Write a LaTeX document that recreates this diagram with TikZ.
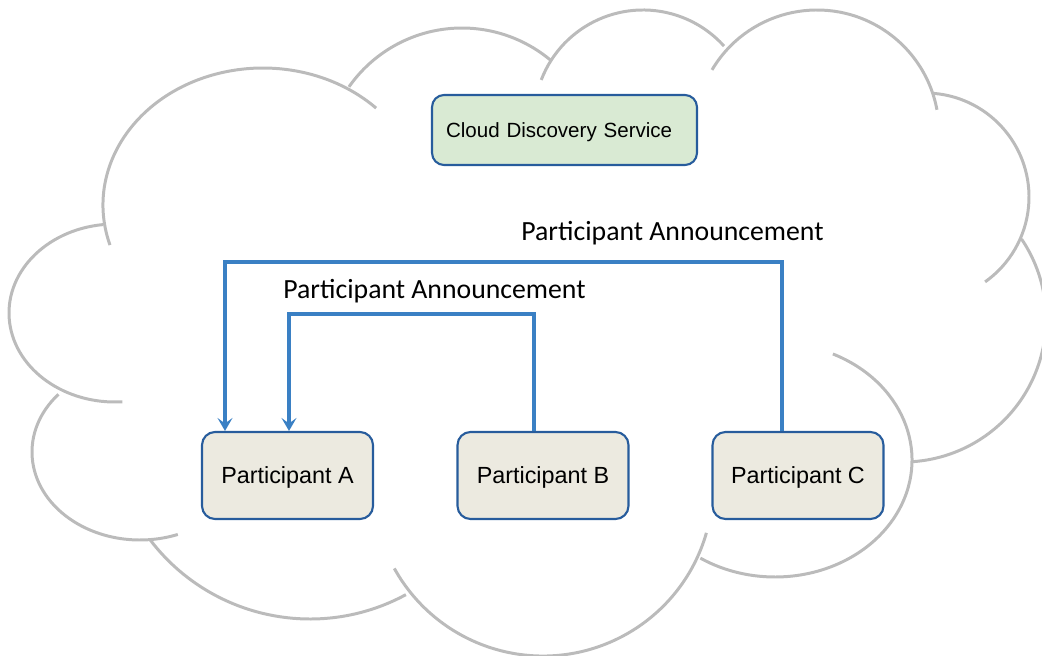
\documentclass[tikz,border=0pt]{standalone}
\usepackage{fontspec}
\setmainfont{Liberation Sans}
\newfontfamily\annfont{Carlito}
\usepackage{tikz}
\usetikzlibrary{calc,arrows.meta}
\definecolor{cloudgray}{HTML}{BBBBBB}
\definecolor{msgblue}{HTML}{3A80C4}
\definecolor{boxedge}{HTML}{275C9C}
\definecolor{svcfill}{HTML}{D9EAD3}
\definecolor{partfill}{HTML}{ECEAE0}
\tikzstyle{cld}=[draw=cloudgray, line width=1.7pt]
\tikzstyle{part}=[shape=rectangle, draw=boxedge, fill=partfill, line width=1.2pt, rounded corners=0.26cm, minimum width=3.42cm, minimum height=1.74cm, text depth=0pt, font=\fontsize{13.3}{16}\selectfont]
\tikzstyle{svc}=[shape=rectangle, draw=boxedge, fill=svcfill, line width=1.2pt, rounded corners=0.24cm, minimum height=1.4cm, text width=4.74cm, inner xsep=0.28cm, align=left, text depth=0pt, font=\fontsize{11.7}{14}\selectfont]
\tikzstyle{msg}=[draw=msgblue, line width=2pt, -{Stealth[length=0.26cm,width=0.3cm,inset=0.11cm]}]
\tikzstyle{ann}=[anchor=base, inner sep=0pt, font=\annfont\fontsize{15.8}{19}\selectfont]

\begin{document}
\begin{tikzpicture}[x=0.02cm,y=-0.02cm]
\clip (0,0) rectangle (1042,656);

%cloud
\draw[cld, shift={(263,205)}] (163:160 and 137) arc[start angle=163, end angle=315, x radius=160, y radius=137];
\draw[cld, shift={(462,166)}] (215:138 and 138) arc[start angle=215, end angle=310, x radius=138, y radius=138];
\draw[cld, shift={(643,119)}] (201:109 and 109) arc[start angle=201, end angle=318, x radius=109, y radius=109];
\draw[cld, shift={(817,132)}] (210.6:122 and 122) arc[start angle=210.6, end angle=349.5, x radius=122, y radius=122];
\draw[cld, shift={(925,197)}] (275:104 and 104) arc[start angle=275, end angle=414.7, x radius=104, y radius=104];
\draw[cld, shift={(903,319)}] (326:143 and 143) arc[start angle=326, end angle=446, x radius=143, y radius=143];
\draw[cld, shift={(775,460)}] (295:137 and 117) arc[start angle=295, end angle=483, x radius=137, y radius=117];
\draw[cld, shift={(543,486)}] (16:170 and 170) arc[start angle=16, end angle=151, x radius=170, y radius=170];
\draw[cld, shift={(310,418)}] (61.5:201 and 201) arc[start angle=61.5, end angle=143, x radius=201, y radius=201];
\draw[cld, shift={(140,452)}] (221:108 and 88) arc[start angle=221, end angle=69.5, x radius=108, y radius=88];
\draw[cld, shift={(115,313)}] (263.5:106 and 89) arc[start angle=263.5, end angle=86, x radius=106, y radius=89];

\node (cds) [svc] at (564.5,130) {Cloud Discovery Service};
\node (pA) [part] at (287.5,475.5) {Participant A};
\node (pB) [part] at (543,475.5) {Participant B};
\node (pC) [part] at (798,475.5) {Participant C};

\node (annC) [ann] at (672.5,240) {Participant Announcement};
\node (annB) [ann] at (434.5,298) {Participant Announcement};

\draw[msg] ($(pC.north)+(-16,0)$) -- ++(0,-169) -| ($(pA.north)+(-62.5,0)$);
\draw[msg] ($(pB.north)+(-9,0)$) -- ++(0,-117) -| ($(pA.north)+(1.5,0)$);

\end{tikzpicture}
\end{document}
